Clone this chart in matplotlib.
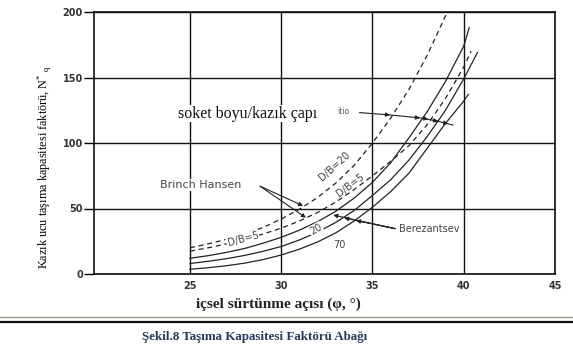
import numpy as np
import matplotlib
matplotlib.use('Agg')
import matplotlib.pyplot as plt
from matplotlib.lines import Line2D

plt.rcParams['mathtext.fontset'] = 'custom'
plt.rcParams['mathtext.rm'] = 'Liberation Serif'
plt.rcParams['mathtext.it'] = 'Liberation Serif:italic'

# friction angle (deg) and N*q, one pair of lists per curve
# Brinch Hansen (dashed)
phi_bh20 = [25, 26, 27, 28, 29, 30, 31, 32, 33, 34, 35, 36, 37, 38, 39, 39.1]
nq_bh20 = [20, 23, 26.5, 30.5, 35.5, 42, 49.5, 58.5, 69.5, 83, 100, 119, 141, 167, 197, 200]
phi_bh5 = [25, 26, 27, 28, 29, 30, 31, 32, 33, 34, 35, 36, 37, 38, 39, 40, 40.4]
nq_bh5 = [17.5, 20, 23, 26.5, 30.5, 35, 40.5, 47, 55, 64.5, 75, 86, 98, 114, 134, 158, 170]
# Berezantsev (solid)
phi_b5 = [25, 26, 27, 28, 29, 30, 31, 32, 33, 34, 35, 36, 37, 38, 39, 40, 40.3]
nq_b5 = [12, 14, 16.5, 19.5, 23.5, 28, 33.5, 40, 48, 58, 70, 85, 104, 124, 147, 174, 188]
phi_b20 = [25, 26, 27, 28, 29, 30, 31, 32, 33, 34, 35, 36, 37, 38, 39, 40, 40.75]
nq_b20 = [8, 9.7, 11.7, 14.2, 17.3, 21, 26, 32, 39.5, 48.5, 60, 72, 87, 105, 125, 149, 169]
phi_b70 = [25, 26, 27, 28, 29, 30, 31, 32, 33, 34, 35, 36, 37, 38, 39, 40, 40.25]
nq_b70 = [3.6, 4.8, 6.3, 8.3, 11, 14.5, 19, 24.5, 31.5, 40.5, 51, 63, 77, 96, 115, 132, 137]

xticks = [25, 30, 35, 40, 45]
yticks = [0, 50, 100, 150, 200]

# "ratio" arrow path and where its heads sit
ratio_x = [34.3, 35.96, 37.77, 38.52, 39.41]
ratio_y = [123.2, 121.4, 118.9, 116.8, 113.7]
ratio_heads = [35.96, 37.6, 38.05, 38.6, 39.15]

fig = plt.figure(figsize=(5.73, 3.49), dpi=100)
ax = fig.add_axes([94/573, 1-274/349, (555-94)/573, (274-12)/349])

curve = '#222222'
ax.plot(phi_bh20, nq_bh20, color=curve, lw=0.9, dashes=(4, 3))
ax.plot(phi_bh5, nq_bh5, color=curve, lw=0.9, dashes=(4, 3))
ax.plot(phi_b5, nq_b5, color=curve, lw=0.9)
ax.plot(phi_b20, nq_b20, color=curve, lw=0.9)
ax.plot(phi_b70, nq_b70, color=curve, lw=0.9)

ax.set_xlim(19.74, 45)
ax.set_ylim(0, 200)
ax.set_xticks(xticks)
ax.set_yticks(yticks)
ax.grid(True, color='#111111', lw=1.0)
ax.set_axisbelow(True)
for s in ax.spines.values():
    s.set_color('#111111')
    s.set_linewidth(1.2)
ax.tick_params(axis='y', length=7, width=1.0, pad=1, labelsize=7, labelcolor='#333333')
ax.tick_params(axis='x', length=0, pad=5, labelsize=7, labelcolor='#333333')
for lab in ax.get_xticklabels() + ax.get_yticklabels():
    lab.set_fontweight('bold')

white = dict(facecolor='white', edgecolor='none', pad=0.6)
lab_kw = dict(family='DejaVu Sans', size=7, color='#444444')
arrow = dict(arrowstyle='-|>', color='#222222', lw=0.8, mutation_scale=6, shrinkA=0, shrinkB=0)

ax.text(25.6, 68, 'Brinch Hansen', ha='center', va='center', bbox=white,
        family='DejaVu Sans', size=8, color='#444444')
ax.annotate('', xy=(31.2, 52), xytext=(28.84, 67), arrowprops=arrow)
ax.annotate('', xy=(31.35, 43), xytext=(28.84, 67), arrowprops=arrow)

ax.text(27.9, 26.5, 'D/B=5', ha='center', va='center', rotation=15, bbox=white, **lab_kw)
ax.text(32.9, 82, 'D/B=20', ha='center', va='center', rotation=42, **lab_kw)
ax.text(33.8, 68, 'D/B=5', ha='center', va='center', rotation=37, **lab_kw)
ax.text(31.9, 34, '20', ha='center', va='center', rotation=30, bbox=white, **lab_kw)
ax.text(33.2, 22, '70', ha='center', va='center', **lab_kw)

ax.text(36.45, 34, 'Berezantsev', ha='left', va='center', **lab_kw)
for tip in [(34.1, 40.8), (33.45, 42.8), (32.85, 45)]:
    ax.annotate('', xy=tip, xytext=(36.25, 34.6), arrowprops=arrow)

ax.text(28.18, 122.5, 'soket boyu/kazık çapı', ha='center', va='center',
        family='Liberation Serif', size=11.5, color='#111111', bbox=white)
ax.text(33.38, 124.4, 'itio', ha='center', va='center', family='DejaVu Sans',
        size=5.5, color='#555555', bbox=white)
ax.plot(ratio_x, ratio_y, color='#222222', lw=0.8)
for hx in ratio_heads:
    hy = np.interp(hx, ratio_x, ratio_y)
    px = hx - 0.3
    py = np.interp(px, ratio_x, ratio_y)
    ax.annotate('', xy=(hx, hy), xytext=(px, py), arrowprops=arrow)

fig.text(45/573, 1-167/349, 'Kazık ucu taşıma kapasitesi faktörü, N$^{*}$ $_{\\mathrm{q}}$',
         rotation=90, ha='center', va='center', family='Liberation Serif', size=8.8)
fig.text(278/573, 1-304/349, 'içsel sürtünme açısı (φ, °)', ha='center', va='center',
         family='Liberation Serif', size=11, weight='bold', color='#222222')

fig.add_artist(Line2D([0, 1], [1-316.7/349]*2, transform=fig.transFigure,
                      color='#9a9686', lw=1.0))
fig.add_artist(Line2D([0, 1], [1-321.5/349]*2, transform=fig.transFigure,
                      color='#111111', lw=1.6))
fig.text(255/573, 1-336.7/349, 'Şekil.8 Taşıma Kapasitesi Faktörü Abağı', ha='center',
         va='center', family='Liberation Serif', size=9.4, weight='bold', color='#243b5e')

fig.savefig('out.png', dpi=100)
